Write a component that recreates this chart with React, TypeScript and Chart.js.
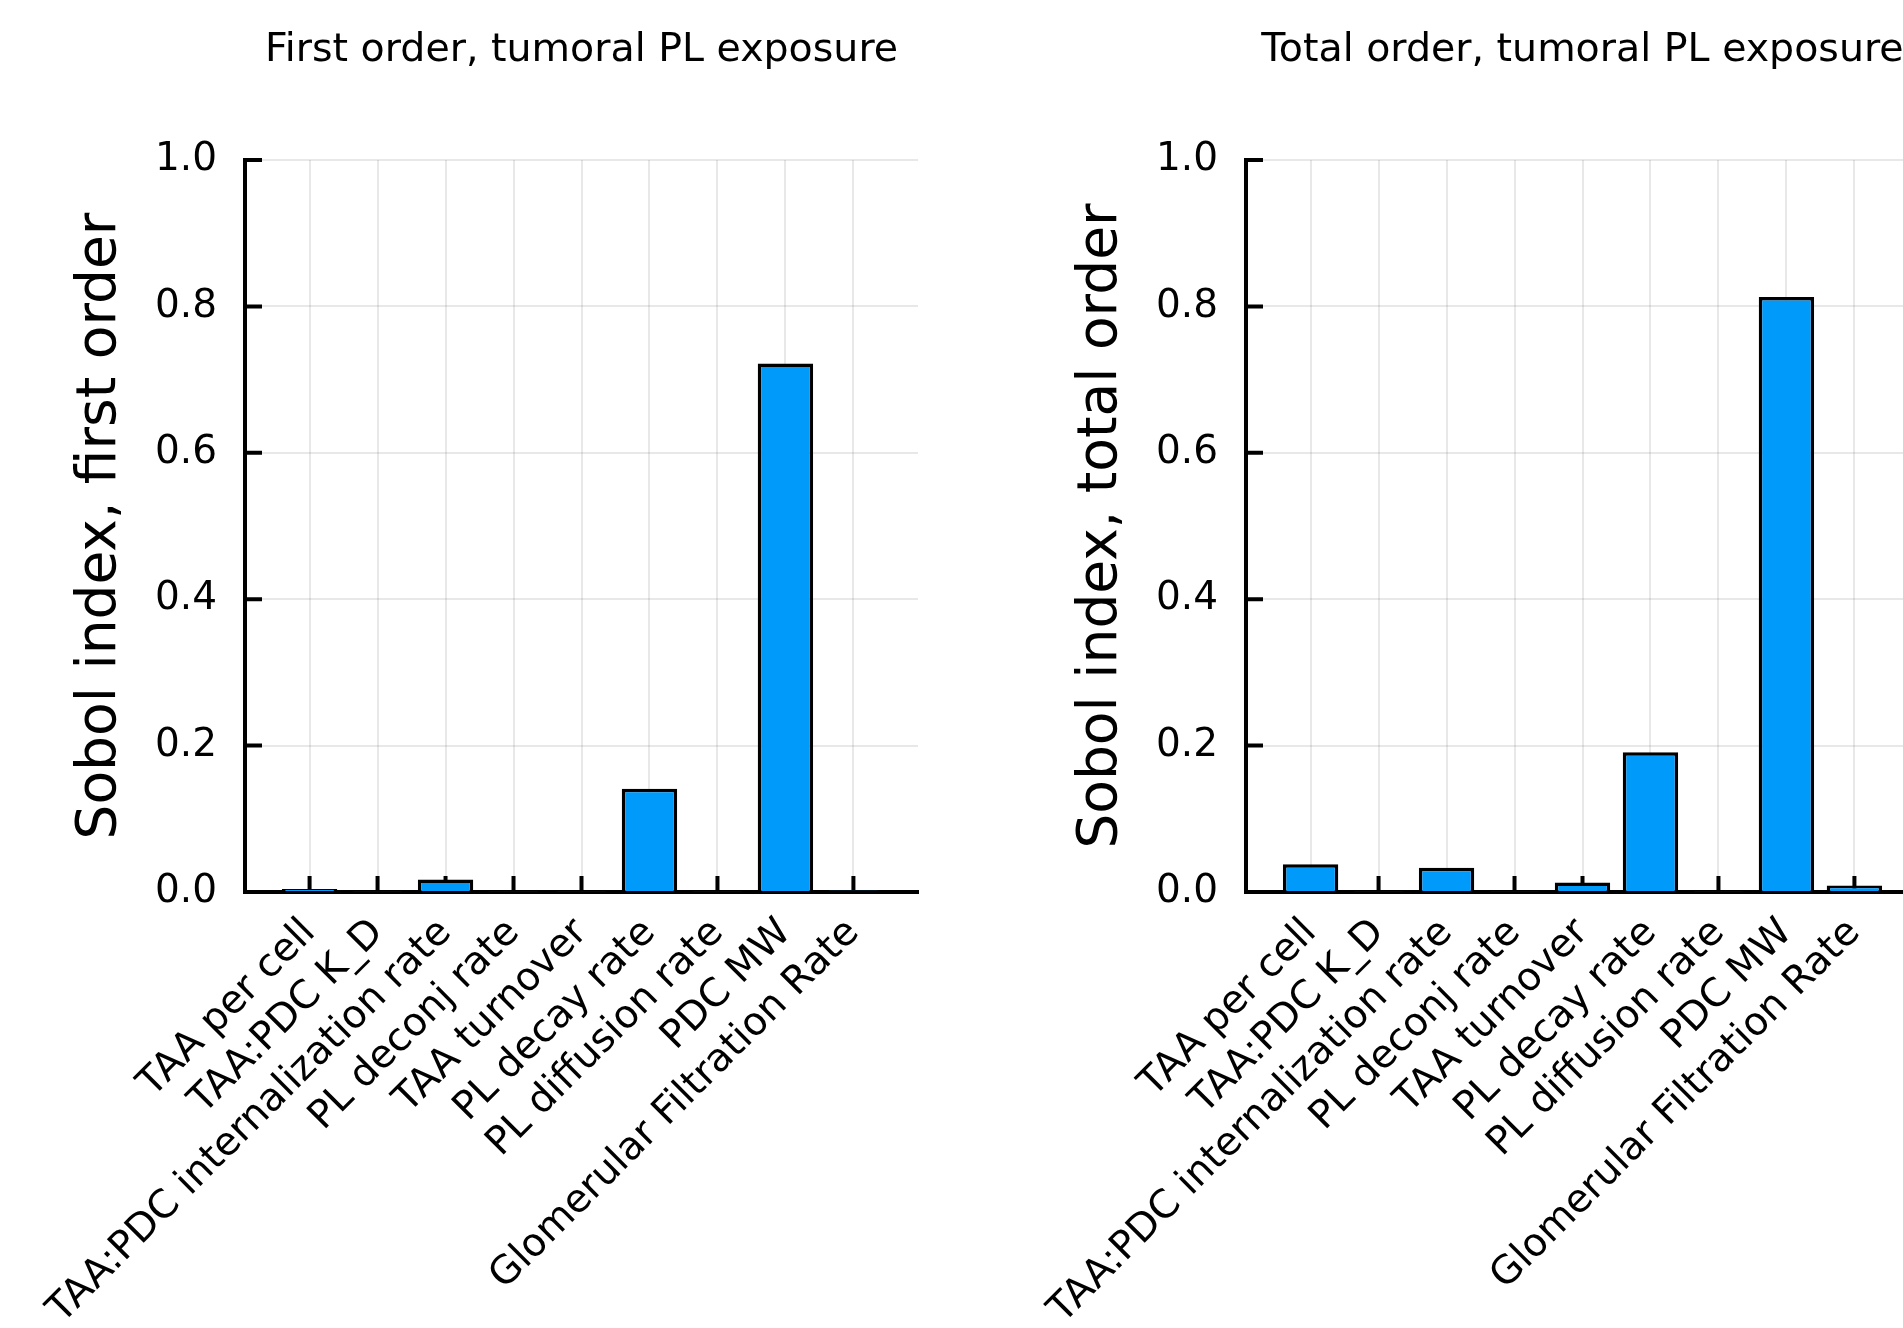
import { useEffect, useRef } from 'react';
import { Chart, registerables } from 'chart.js';

Chart.register(...registerables);

// Model parameters screened in the sensitivity analysis
const parameters = [
  'TAA per cell',
  'TAA:PDC K_D',
  'TAA:PDC internalization rate',
  'PL deconj rate',
  'TAA turnover',
  'PL decay rate',
  'PL diffusion rate',
  'PDC MW',
  'Glomerular Filtration Rate',
];

// Sobol indices for tumoral payload (PL) exposure
const firstOrderIndex = [0.004, 0.001, 0.017, 0.001, 0.001, 0.141, 0.001, 0.722, 0.002];
const totalOrderIndex = [0.038, 0.001, 0.033, 0.001, 0.013, 0.191, 0.001, 0.813, 0.009];

const yTickValues = [0, 0.2, 0.4, 0.6, 0.8, 1.0];

const FONT = '"DejaVu Sans", "Liberation Sans", sans-serif';
const PANEL_W = 1001;
const PANEL_H = 1328;
const BAR_BLUE = '#009AFA';
const LINE_W = 4;

// Tick marks drawn on the inner side of both axes
const innerTicks = {
  id: 'innerTicks',
  beforeDatasetsDraw(chart: any) {
    const { ctx, chartArea, scales } = chart;
    ctx.save();
    ctx.strokeStyle = '#000';
    ctx.lineWidth = LINE_W;
    ctx.beginPath();
    scales.x.ticks.forEach((t: any) => {
      const px = scales.x.getPixelForValue(t.value);
      ctx.moveTo(px, chartArea.bottom);
      ctx.lineTo(px, chartArea.bottom - 16);
    });
    scales.y.ticks.forEach((t: any) => {
      const py = scales.y.getPixelForValue(t.value);
      ctx.moveTo(chartArea.left, py);
      ctx.lineTo(chartArea.left + 17, py);
    });
    ctx.stroke();
    ctx.restore();
  },
};

// Panel title centred over the plotting area
const panelTitle = {
  id: 'panelTitle',
  afterDraw(chart: any, _args: any, opts: any) {
    const { ctx, chartArea } = chart;
    ctx.save();
    ctx.font = `39.5px ${FONT}`;
    ctx.fillStyle = '#000';
    ctx.textAlign = 'center';
    ctx.textBaseline = 'alphabetic';
    ctx.fillText(opts.text, (chartArea.left + chartArea.right) / 2, 61);
    ctx.restore();
  },
};

type PanelProps = { title: string; yTitle: string; values: number[]; left: number };

function SobolPanel({ title, yTitle, values, left }: PanelProps) {
  const canvasRef = useRef<HTMLCanvasElement>(null);

  useEffect(() => {
    const canvas = canvasRef.current;
    if (!canvas) return;
    const chart = new Chart(canvas, {
      type: 'bar',
      data: {
        datasets: [
          {
            data: values.map((v, i) => ({ x: i + 1, y: v })),
            backgroundColor: BAR_BLUE,
            borderColor: '#000',
            borderWidth: 3.5,
            barPercentage: 0.815,
            categoryPercentage: 1,
          },
        ],
      },
      options: {
        responsive: false,
        animation: false,
        devicePixelRatio: 1,
        layout: { padding: { left: 0, top: 160, right: PANEL_W - 918, bottom: 0 } },
        plugins: {
          legend: { display: false },
          tooltip: { enabled: false },
          title: { display: false },
          panelTitle: { text: title },
        } as any,
        scales: {
          x: {
            type: 'linear',
            min: 0.05,
            max: 9.95,
            offset: false,
            afterBuildTicks: (scale: any) => {
              scale.ticks = parameters.map((_, i) => ({ value: i + 1 }));
            },
            afterFit: (scale: any) => {
              scale.height = PANEL_H - 892;
            },
            grid: { offset: false, color: 'rgba(0,0,0,0.09)', lineWidth: 2, drawTicks: false },
            border: { display: true, color: '#000', width: LINE_W },
            ticks: {
              autoSkip: false,
              minRotation: 45,
              maxRotation: 45,
              padding: 18,
              color: '#000',
              font: { family: FONT, size: 39 },
              callback: (v: any) => parameters[Math.round(Number(v)) - 1] ?? '',
            },
          },
          y: {
            type: 'linear',
            min: 0,
            max: 1,
            afterBuildTicks: (scale: any) => {
              scale.ticks = yTickValues.map((v) => ({ value: v }));
            },
            afterFit: (scale: any) => {
              scale.width = 245;
            },
            grid: { color: 'rgba(0,0,0,0.09)', lineWidth: 2, drawTicks: false },
            border: { display: true, color: '#000', width: LINE_W },
            ticks: {
              padding: 28,
              color: '#000',
              font: { family: FONT, size: 39 },
              callback: (v: any) => Number(v).toFixed(1),
            },
            title: {
              display: true,
              text: yTitle,
              color: '#000',
              font: { family: FONT, size: 55 },
              padding: { top: 68, bottom: 0 },
            },
          },
        },
      } as any,
      plugins: [innerTicks, panelTitle],
    });
    return () => chart.destroy();
  }, [title, yTitle, values]);

  return (
    <canvas
      ref={canvasRef}
      width={PANEL_W}
      height={PANEL_H}
      style={{ position: 'absolute', left, top: 0, width: PANEL_W, height: PANEL_H }}
    />
  );
}

export default function App() {
  return (
    <div
      style={{
        position: 'absolute',
        left: 0,
        top: 0,
        width: 1903,
        height: 1328,
        overflow: 'hidden',
        background: '#fff',
      }}
    >
      <SobolPanel
        title="First order, tumoral PL exposure"
        yTitle="Sobol index, first order"
        values={firstOrderIndex}
        left={0}
      />
      <SobolPanel
        title="Total order, tumoral PL exposure"
        yTitle="Sobol index, total order"
        values={totalOrderIndex}
        left={PANEL_W}
      />
    </div>
  );
}
